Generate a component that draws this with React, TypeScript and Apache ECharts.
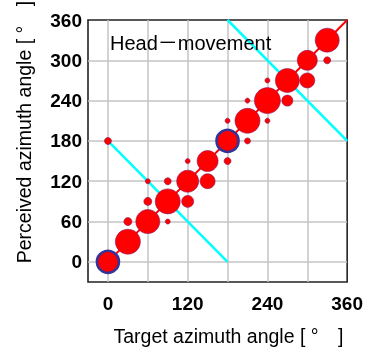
import React, { useEffect, useRef } from 'react';
import * as echarts from 'echarts';

// Bubble data: target angle, perceived angle, bubble diameter (px), highlighted flag
const bubbleTarget = [0, 30, 60, 90, 120, 150, 180, 210, 240, 270, 300, 330,
  0, 30, 60, 60, 90, 90, 120, 120, 150, 180, 180, 210, 210, 240, 240, 270, 300, 330];
const bubblePerceived = [0, 30, 60, 90, 120, 150, 180, 210, 240, 270, 300, 330,
  180, 60, 90, 120, 60, 120, 90, 150, 120, 150, 210, 180, 240, 210, 270, 240, 270, 300];
const bubbleSize = [22, 25, 24, 25, 22, 21, 22, 25, 26, 24, 20, 24,
  7, 8, 8, 5, 5, 7, 12, 5, 15, 7, 5, 6, 5, 5, 5, 11, 15, 7];
const bubbleHighlighted = [true, false, false, false, false, false, true, false, false, false, false, false,
  false, false, false, false, false, false, false, false, false, false, false, false, false, false, false, false, false, false];

const diagonalLine = [[0, 0], [360, 360]];
const mirrorLineA = [[0, 180], [180, 0]];
const mirrorLineB = [[180, 360], [360, 180]];

const gridValues = [0, 60, 120, 180, 240, 300];
const xTickLabels = [0, 120, 240, 360];
const yTickLabels = [0, 60, 120, 180, 240, 300, 360];

const axisMin = -30;
const axisMax = 360;

const FONT = "'Liberation Sans', Arial, Helvetica, 'Noto Sans CJK JP', sans-serif";

export default function App() {
  const ref = useRef<HTMLDivElement>(null);
  useEffect(() => {
    if (!ref.current) return;
    const chart = echarts.init(ref.current, undefined, { renderer: 'svg' });
    const bubbles = bubbleTarget.map((t, i) => {
      const item: any = { value: [t, bubblePerceived[i], bubbleSize[i]] };
      if (bubbleHighlighted[i]) {
        item.itemStyle = { borderColor: '#33339a', borderWidth: 2.6 };
      }
      return item;
    });
    const gridMarks = [
      ...gridValues.map((v) => ({ xAxis: v })),
      ...gridValues.map((v) => ({ yAxis: v })),
    ];
    chart.setOption({
      animation: false,
      grid: {
        left: 88, top: 20, right: 17, bottom: 67,
        show: true, borderColor: '#222', borderWidth: 1.6, backgroundColor: '#fff',
      },
      xAxis: {
        type: 'value', min: axisMin, max: axisMax, interval: 30,
        axisLine: { show: false }, axisTick: { show: false }, splitLine: { show: false },
        axisLabel: {
          margin: 12, color: '#000', fontSize: 19, fontWeight: 'bold', fontFamily: FONT,
          showMinLabel: true, showMaxLabel: true,
          formatter: (v: number) => (xTickLabels.includes(v) ? String(v) : ''),
        },
      },
      yAxis: {
        type: 'value', min: axisMin, max: axisMax, interval: 30,
        axisLine: { show: false }, axisTick: { show: false }, splitLine: { show: false },
        axisLabel: {
          margin: 6, color: '#000', fontSize: 19, fontWeight: 'bold', fontFamily: FONT,
          showMinLabel: true, showMaxLabel: true,
          formatter: (v: number) => (yTickLabels.includes(v) ? String(v) : ''),
        },
      },
      graphic: [
        {
          type: 'text', left: 110, top: 33,
          style: { text: 'Head－movement', fill: '#000', font: `20px ${FONT}` },
          z: 10,
        },
        {
          type: 'text', x: 228.5, y: 336,
          style: { text: 'Target azimuth angle [ °\u3000]', fill: '#000', font: `19.5px ${FONT}`, align: 'center', verticalAlign: 'middle' },
        },
        {
          type: 'text', x: 24, y: 132, rotation: Math.PI / 2,
          style: { text: 'Perceived azimuth angle [ °\u3000]', fill: '#000', font: `19.5px ${FONT}`, align: 'center', verticalAlign: 'middle' },
        },
      ],
      series: [
        {
          type: 'line', data: [], z: 1, silent: true,
          markLine: {
            z: 1, silent: true, symbol: 'none', label: { show: false },
            lineStyle: { color: '#c4c4c4', width: 1.5, type: 'solid' },
            data: gridMarks,
          },
        },
        {
          type: 'line', data: diagonalLine, z: 2, symbol: 'none', silent: true,
          lineStyle: { color: '#ff0000', width: 2 },
        },
        {
          type: 'line', data: mirrorLineA, z: 2, symbol: 'none', silent: true,
          lineStyle: { color: '#00ffff', width: 2.5 },
        },
        {
          type: 'line', data: mirrorLineB, z: 2, symbol: 'none', silent: true,
          lineStyle: { color: '#00ffff', width: 2.5 },
        },
        {
          type: 'scatter', z: 3, silent: true,
          data: bubbles,
          symbolSize: (val: number[]) => val[2],
          itemStyle: { color: '#ff0000', borderColor: '#8a1060', borderWidth: 0.6, opacity: 1 },
        },
      ],
    });
    return () => chart.dispose();
  }, []);
  return <div ref={ref} style={{ position: 'fixed', left: 0, top: 0, width: 366, height: 349 }} />;
}
